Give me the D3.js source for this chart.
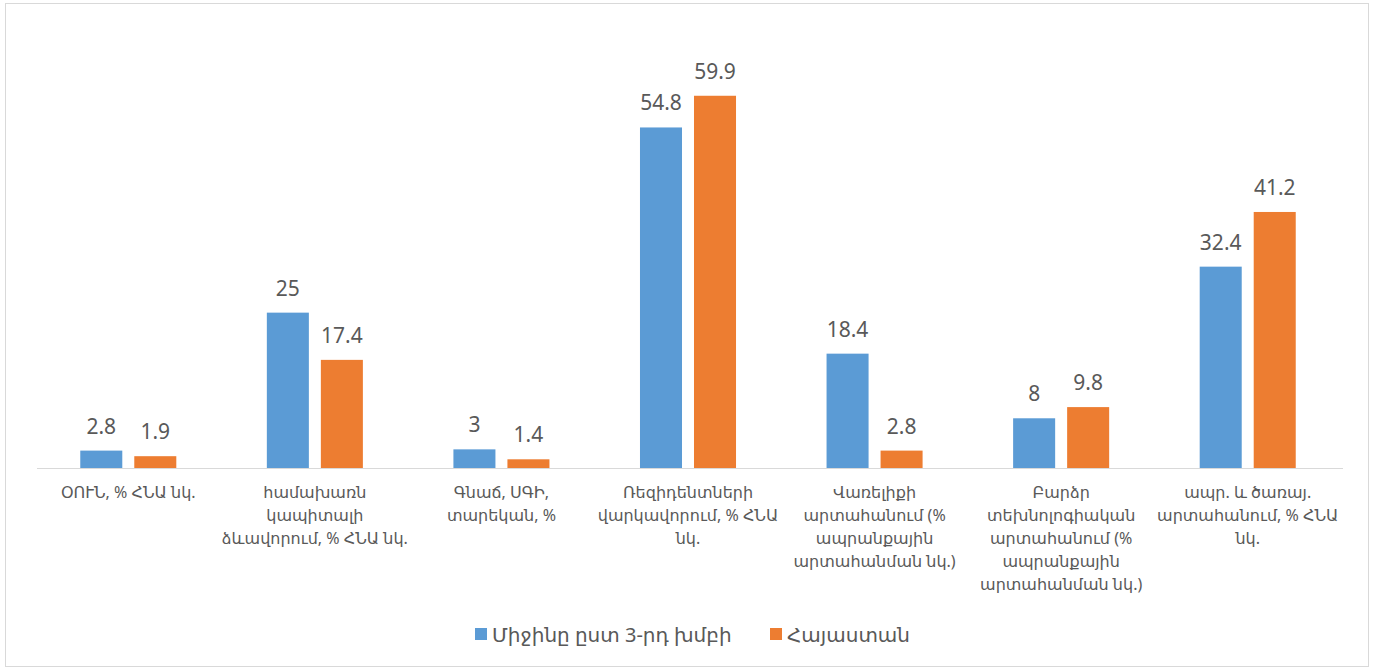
<!DOCTYPE html>
<html><head><meta charset="utf-8">
<script src="https://cdn.jsdelivr.net/npm/d3@7"></script>
<style>
body{margin:0;background:#fff;}
svg text{font-family:"Noto Sans","DejaVu Sans",sans-serif;fill:#595959;}
</style></head>
<body><svg id="c" width="1373" height="671"></svg>
<script>
const categories = [
  ["ՕՈՒՆ, % ՀՆԱ նկ."],
  ["համախառն","կապիտալի","ձևավորում, % ՀՆԱ նկ."],
  ["Գնաճ, ՍԳԻ,","տարեկան, %"],
  ["Ռեզիդենտների","վարկավորում, % ՀՆԱ","նկ."],
  ["Վառելիքի","արտահանում (%","ապրանքային","արտահանման նկ.)"],
  ["Բարձր","տեխնոլոգիական","արտահանում (%","ապրանքային","արտահանման նկ.)"],
  ["ապր. և ծառայ.","արտահանում, % ՀՆԱ","նկ."]
];
const seriesNames = ["Միջինը ըստ 3-րդ խմբի","Հայաստան"];
const groupAvg = [2.8, 25, 3, 54.8, 18.4, 8, 32.4];
const armenia = [1.9, 17.4, 1.4, 59.9, 2.8, 9.8, 41.2];
const colors = ["#5B9BD5","#ED7D31"];

const svg = d3.select("#c");
svg.append("rect").attr("x",5.5).attr("y",3.5).attr("width",1363).attr("height",663)
  .attr("fill","none").attr("stroke","#d9d9d9");

const x0 = d3.scaleBand().domain(d3.range(categories.length)).range([35,1341]);
const x1 = d3.scaleBand().domain([0,1]).range([0,x0.bandwidth()]).paddingInner(0.222).paddingOuter(0.838);
const y = d3.scaleLinear().domain([0,70]).range([468,33]);

const series = [groupAvg, armenia];
series.forEach((vals,si)=>{
  const g = svg.append("g");
  g.selectAll("rect").data(vals).join("rect")
    .attr("x",(d,i)=>x0(i)+x1(si))
    .attr("y",d=>y(d))
    .attr("width",x1.bandwidth())
    .attr("height",d=>y(0)-y(d))
    .attr("fill",colors[si]);
  g.selectAll("text").data(vals).join("text")
    .attr("x",(d,i)=>x0(i)+x1(si)+x1.bandwidth()/2)
    .attr("y",d=>y(d)-17)
    .attr("text-anchor","middle")
    .attr("font-size",21)
    .text(d=>d);
});

svg.append("line").attr("x1",37).attr("x2",1343).attr("y1",y(0)+0.5).attr("y2",y(0)+0.5)
  .attr("stroke","#d9d9d9").attr("stroke-width",1);

const lab = svg.append("g");
categories.forEach((lines,i)=>{
  const t = lab.append("text").attr("text-anchor","middle").attr("font-size",16);
  lines.forEach((l,j)=>{
    t.append("tspan").attr("x",x0(i)+x0.bandwidth()/2).attr("y",498+j*23).text(l);
  });
});

const leg = svg.append("g");
const legX = [475, 770];
seriesNames.forEach((n,i)=>{
  leg.append("rect").attr("x",legX[i]).attr("y",628).attr("width",12).attr("height",12).attr("fill",colors[i]);
  leg.append("text").attr("x",legX[i]+17).attr("y",642).attr("font-size",20).text(n);
});
</script></body></html>
